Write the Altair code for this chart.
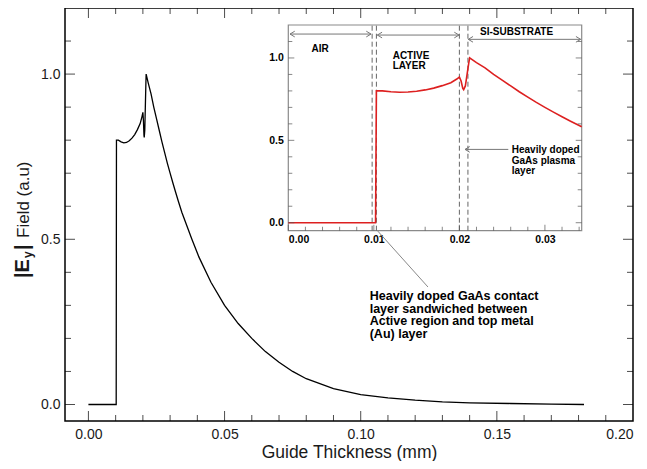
import altair as alt
import pandas as pd

# ---------------- data ----------------
x_mm = [0.0, 0.0100, 0.0102, 0.0103, 0.0110, 0.0120, 0.0130, 0.0140, 0.0150, 0.0160,
        0.0170, 0.0180, 0.0190, 0.0197, 0.0200, 0.0202, 0.0204, 0.0205, 0.0207, 0.0209,
        0.0211, 0.0212, 0.0220, 0.0230, 0.0240, 0.0250, 0.0260, 0.0270, 0.0280, 0.0290,
        0.0300, 0.0310, 0.0320, 0.0330, 0.0343, 0.0380, 0.0406, 0.0450, 0.0500, 0.0550,
        0.0600, 0.0650, 0.0700, 0.0750, 0.0800, 0.0900, 0.1000, 0.1100, 0.1200, 0.1300,
        0.1400, 0.1550, 0.1700, 0.1820]
field = [0.0, 0.0, 0.0, 0.800, 0.800, 0.795, 0.792, 0.793, 0.798, 0.806,
         0.817, 0.832, 0.850, 0.872, 0.884, 0.860, 0.815, 0.808, 0.830, 0.900,
         0.970, 1.000, 0.972, 0.940, 0.900, 0.865, 0.830, 0.795, 0.762, 0.730,
         0.700, 0.671, 0.643, 0.616, 0.582, 0.500, 0.446, 0.370, 0.300, 0.245,
         0.200, 0.160, 0.128, 0.100, 0.078, 0.048, 0.030, 0.020, 0.013, 0.008,
         0.005, 0.003, 0.001, 0.000]

main_x_labels = [0.0, 0.05, 0.10, 0.15, 0.20]
main_y_labels = [0.0, 0.5, 1.0]
main_x_major = [0.0, 0.05, 0.10, 0.15]
main_x_minor = [round(0.01 * i, 2) for i in range(20) if i % 5]
main_y_minor = [round(0.1 * i, 1) for i in range(12) if i % 5]

inset_x_labels = [0.0, 0.01, 0.02, 0.03]
inset_y_labels = [0.0, 0.5, 1.0]
inset_x_minor = [round(0.002 * i, 3) for i in range(18) if i % 5]
inset_y_minor = [round(0.1 * i, 1) for i in range(12) if i % 5]

layer_bounds = [0.0098, 0.0103, 0.0200, 0.0210]

arrow_x1 = [0.0002, 0.01041, 0.02104, 0.02066]
arrow_x2 = [0.00967, 0.01996, 0.03418, 0.02572]
arrow_y = [1.145, 1.139, 1.113, 0.445]
arrow_left = [True, True, True, True]
arrow_right = [True, True, True, False]

contact_note = "Heavily doped GaAs contact\nlayer sandwiched between\nActive region and top metal\n(Au) layer"

# ---------------- geometry ----------------
W, H = 568, 413
MX = [-0.0086, 0.2]
MY = [-0.05, 1.2]
IX = [0.0, 0.0343]
IY = [-0.0485, 1.2]
IXR = [223.3, 516.7]
IYR = [222.7, 17.0]

FONT = "Liberation Sans"

sx = alt.Scale(domain=MX, nice=False, zero=False)
sy = alt.Scale(domain=MY, nice=False, zero=False)
isx = alt.Scale(domain=IX, range=IXR, nice=False, zero=False)
isy = alt.Scale(domain=IY, range=IYR, nice=False, zero=False)

df = pd.DataFrame({"x": x_mm, "f": field})
one = pd.DataFrame({"d": [0]})


def tick_layer(values, side, length, sx_, sy_, xdom, ydom, color):
    d = pd.DataFrame({"v": values})
    h = length / 2
    if side in ("bottom", "top"):
        mk = alt.Chart(d).mark_tick(orient="vertical", size=length, thickness=1, color=color,
                                    yOffset=(-h if side == "bottom" else h))
        yv = ydom[0] if side == "bottom" else ydom[1]
        return mk.encode(x=alt.X("v:Q", scale=sx_), y=alt.YDatum(yv, scale=sy_))
    mk = alt.Chart(d).mark_tick(orient="horizontal", size=length, thickness=1, color=color,
                                xOffset=(h if side == "left" else -h))
    xv = xdom[0] if side == "left" else xdom[1]
    return mk.encode(y=alt.Y("v:Q", scale=sy_), x=alt.XDatum(xv, scale=sx_))


# ---------------- main chart ----------------
main_x_axis = alt.Axis(
    values=main_x_labels, format=".2f", ticks=False, domain=False, grid=False,
    labelFont=FONT, labelFontSize=14, labelColor="#1a1a1a", labelPadding=6,
    labelAlign={"condition": {"test": "datum.value > 0.19", "value": "right"}, "value": "center"},
    title="Guide Thickness (mm)", titleFont=FONT, titleFontSize=17.5, titleFontWeight="normal",
    titleColor="#1a1a1a", titleY=36, titleBaseline="alphabetic",
)
main_y_axis = alt.Axis(
    values=main_y_labels, format=".1f", ticks=False, domain=False, grid=False,
    labelFont=FONT, labelFontSize=14, labelColor="#1a1a1a", labelPadding=5, title=None,
)

main_line = alt.Chart(df).mark_line(color="black", strokeWidth=1.3).encode(
    x=alt.X("x:Q", scale=sx, axis=main_x_axis),
    y=alt.Y("f:Q", scale=sy, axis=main_y_axis),
)

main_ticks = []
for side in ("bottom", "top"):
    main_ticks.append(tick_layer(main_x_major, side, 10, sx, sy, MX, MY, "black"))
    main_ticks.append(tick_layer(main_x_minor, side, 6, sx, sy, MX, MY, "black"))
for side in ("left", "right"):
    main_ticks.append(tick_layer(main_y_labels, side, 10, sx, sy, MX, MY, "black"))
    main_ticks.append(tick_layer(main_y_minor, side, 6, sx, sy, MX, MY, "black"))

contact_rule = alt.Chart(one).mark_rule(color="#888888", strokeWidth=1).encode(
    x=alt.XDatum(0.1051, scale=sx), y=alt.YDatum(0.5355, scale=sy),
    x2=alt.X2Datum(0.1247), y2=alt.Y2Datum(0.3556),
)
contact_text = alt.Chart(one).mark_text(
    text=contact_note, lineBreak="\n", align="left", baseline="top", font=FONT,
    fontSize=12.5, fontWeight="bold", lineHeight=12.7, color="black",
).encode(x=alt.XDatum(0.1033, scale=sx), y=alt.YDatum(0.3462, scale=sy))

yt_field = alt.Chart(one).mark_text(
    text="Field (a.u)", angle=270, align="left", baseline="alphabetic", font=FONT,
    fontSize=17, color="#1a1a1a").encode(x=alt.value(-36), y=alt.value(230))
yt_e = alt.Chart(one).mark_text(
    text="|E", angle=270, align="left", baseline="alphabetic", font=FONT,
    fontSize=20, fontWeight="bold", color="#1a1a1a").encode(x=alt.value(-36), y=alt.value(270))
yt_sub = alt.Chart(one).mark_text(
    text="y", angle=270, align="left", baseline="alphabetic", font=FONT,
    fontSize=12, fontWeight="bold", color="#1a1a1a").encode(x=alt.value(-33), y=alt.value(250))
yt_bar = alt.Chart(one).mark_text(
    text="|", angle=270, align="left", baseline="alphabetic", font=FONT,
    fontSize=20, fontWeight="bold", color="#1a1a1a").encode(x=alt.value(-36), y=alt.value(242))

main = alt.layer(main_line, *main_ticks, contact_rule, contact_text,
                 yt_field, yt_e, yt_sub, yt_bar)

# ---------------- inset ----------------
inset_x_axis = alt.Axis(
    orient="bottom", offset=IYR[0] - H, values=inset_x_labels, format=".2f",
    ticks=False, domain=False, grid=False, labelFont=FONT, labelFontSize=10.5,
    labelFontWeight="bold", labelColor="black", labelPadding=4, title=None,
)
inset_y_axis = alt.Axis(
    orient="left", offset=-IXR[0], values=inset_y_labels, format=".1f",
    ticks=False, domain=False, grid=False, labelFont=FONT, labelFontSize=10.5,
    labelFontWeight="bold", labelColor="black", labelPadding=5, title=None,
)

inset_frame = alt.Chart(one).mark_rect(fill="white", stroke="#8a8a8a", strokeWidth=1.2).encode(
    x=alt.XDatum(IX[0], scale=isx), x2=alt.X2Datum(IX[1]),
    y=alt.YDatum(IY[0], scale=isy), y2=alt.Y2Datum(IY[1]),
)
dashes = alt.Chart(pd.DataFrame({"b": layer_bounds})).mark_rule(
    color="#666666", strokeWidth=1, strokeDash=[5, 3]).encode(
    x=alt.X("b:Q", scale=isx), y=alt.YDatum(IY[0], scale=isy), y2=alt.Y2Datum(IY[1]),
)
inset_line = alt.Chart(df).transform_filter("datum.x <= 0.0343").mark_line(
    color="#dd2020", strokeWidth=1.6).encode(
    x=alt.X("x:Q", scale=isx, axis=inset_x_axis),
    y=alt.Y("f:Q", scale=isy, axis=inset_y_axis),
)

arrows_df = pd.DataFrame({"x1": arrow_x1, "x2": arrow_x2, "y": arrow_y,
                          "lh": arrow_left, "rh": arrow_right})
arrow_lines = alt.Chart(arrows_df).mark_rule(color="#777777", strokeWidth=1).encode(
    x=alt.X("x1:Q", scale=isx), x2="x2:Q", y=alt.Y("y:Q", scale=isy))
left_heads = alt.Chart(arrows_df).transform_filter("datum.lh").mark_point(
    shape="M1,-0.6L0,0L1,0.6", size=90, filled=False, color="#777777", strokeWidth=1,
    opacity=1).encode(x=alt.X("x1:Q", scale=isx), y=alt.Y("y:Q", scale=isy))
right_heads = alt.Chart(arrows_df).transform_filter("datum.rh").mark_point(
    shape="M-1,-0.6L0,0L-1,0.6", size=90, filled=False, color="#777777", strokeWidth=1,
    opacity=1).encode(x=alt.X("x2:Q", scale=isx), y=alt.Y("y:Q", scale=isy))


def inset_text(txt, x, y, align, baseline, lh=10):
    return alt.Chart(one).mark_text(
        text=txt, lineBreak="\n", align=align, baseline=baseline, font=FONT,
        fontSize=10, fontWeight="bold", lineHeight=lh, color="black",
    ).encode(x=alt.XDatum(x, scale=isx), y=alt.YDatum(y, scale=isy))


t_air = inset_text("AIR", 0.00371, 1.054, "center", "middle")
t_active = inset_text("ACTIVE\nLAYER", 0.01220, 1.042, "left", "top", 9.5)
t_si = inset_text("SI-SUBSTRATE", 0.02241, 1.159, "left", "middle")
t_plasma = inset_text("Heavily doped\nGaAs plasma\nlayer", 0.02612, 0.4715, "left", "top", 10.7)

inset_ticks = [
    tick_layer(inset_x_labels, "bottom", 6, isx, isy, IX, IY, "#555555"),
    tick_layer(inset_x_minor, "bottom", 4, isx, isy, IX, IY, "#555555"),
    tick_layer(inset_y_labels, "left", 6, isx, isy, IX, IY, "#555555"),
    tick_layer(inset_y_minor, "left", 4, isx, isy, IX, IY, "#555555"),
    tick_layer(inset_y_labels, "right", 6, isx, isy, IX, IY, "#555555"),
    tick_layer(inset_y_minor, "right", 4, isx, isy, IX, IY, "#555555"),
]

inset = alt.layer(inset_frame, dashes, inset_line, arrow_lines, left_heads, right_heads,
                  t_air, t_active, t_si, t_plasma, *inset_ticks)

chart = alt.layer(main, inset).resolve_scale(x="independent", y="independent").properties(
    width=W, height=H,
    autosize=alt.AutoSizeParams(type="none"),
    padding={"left": 57, "top": 0, "right": 6, "bottom": 40},
).configure_view(stroke="black", strokeWidth=1.5)

chart.save("out.html", embed_options={"renderer": "svg", "actions": False})
